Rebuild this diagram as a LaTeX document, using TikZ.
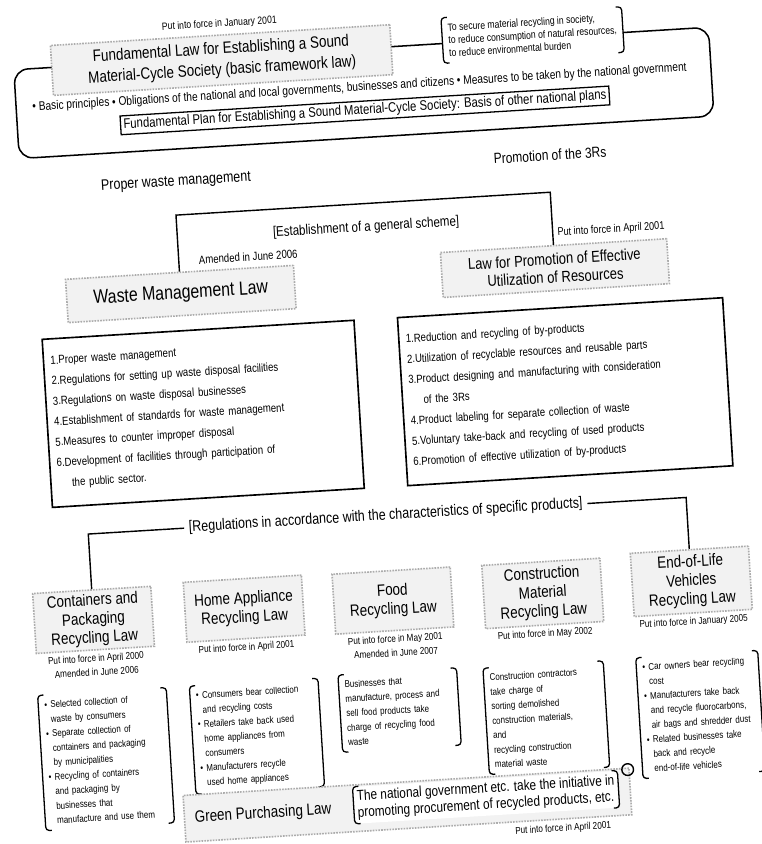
\documentclass[tikz,border=0pt]{standalone}
\usepackage{fontspec}
\setmainfont{Liberation Sans}[FakeStretch=0.82]
\usetikzlibrary{positioning}

\newcommand{\fsz}[2]{\fontsize{#1}{#2}\selectfont}
% brackets round a text node
\newcommand{\brackets}[1]{%
  \draw[line width=1.1pt, rounded corners=3pt]
    ([xshift=5pt]#1.north west) -- (#1.north west) -- (#1.south west) -- ([xshift=5pt]#1.south west)
    ([xshift=-5pt]#1.north east) -- (#1.north east) -- (#1.south east) -- ([xshift=-5pt]#1.south east);}

\tikzset{
  lawbox/.style={draw=gray!65, densely dotted, line width=1.4pt, fill=gray!10, align=center, inner sep=3pt},
  listbox/.style={draw, line width=1.4pt, align=left, anchor=north west, inner sep=6pt, font=\fsz{10}{17.5}},
  note/.style={font=\fsz{8.5}{12}, align=center, inner sep=1pt},
  bracketed/.style={align=left, anchor=north, inner sep=5pt, fill=white, font=\fsz{8.3}{12.4}},
  link/.style={line width=1.2pt},
}

\begin{document}
\begin{tikzpicture}[x=0.03cm, y=-0.03cm]
  \useasboundingbox (0,0) rectangle (762,844);
  \begin{scope}[rotate around={3.5:(381,422)}, transform shape]
  % basic framework law
  \draw[line width=1.3pt, rounded corners=12pt] (36,48) rectangle (732,137);
  \node[lawbox, minimum width=10.2cm, minimum height=1.5cm, font=\fsz{14}{18}] (fund) at (244,51)
    {Fundamental Law for Establishing a Sound\\Material-Cycle Society (basic framework law)};
  \node[font=\fsz{9}{11}, above=1pt of fund] (fundin) {Put into force in January 2001};
  \node[bracketed, anchor=center, font=\fsz{9}{11}] (aim) at (556,45)
    {To secure material recycling in society,\\to reduce consumption of natural resources,\\to reduce environmental burden};
  \brackets{aim}
  \node[font=\fsz{10.6}{12}] (prin) at (380,87)
    {• Basic principles • Obligations of the national and local governments, businesses and citizens • Measures to be taken by the national government};
  \node[draw, line width=1.1pt, font=\fsz{11.8}{13}, inner sep=2.5pt] (plan) at (384,110)
    {Fundamental Plan for Establishing a Sound Material-Cycle Society: Basis of other national plans};
  \node[font=\fsz{13}{14}] (proper) at (191,170) {Proper waste management};
  \node[font=\fsz{12.5}{14}] (three) at (566,166) {Promotion of the 3Rs};

  % general scheme
  \node[lawbox, minimum width=6.85cm, minimum height=1.3cm, font=\fsz{16.5}{19}] (wml) at (189,282) {Waste Management Law};
  \node[font=\fsz{10}{12}, anchor=west] (wmlam) at (205,249) {Amended in June 2006};
  \node[lawbox, minimum width=6.8cm, minimum height=1.35cm, font=\fsz{13.5}{15.5}] (epr) at (564,279)
    {Law for Promotion of Effective\\Utilization of Resources};
  \node[font=\fsz{9.5}{11}, anchor=east] (eprin) at (680,244) {Put into force in April 2001};
  \coordinate (schtop) at (378,203);
  \node[font=\fsz{12}{14}] (scheme) at (378,227) {[Establishment of a general scheme]};
  \draw[link] (wml.north) |- (schtop) -| (epr.north);

  \node[listbox, text width=8.95cm, minimum height=5.05cm] (wmllist) at (47,318)
    {1.Proper waste management\\
     2.Regulations for setting up waste disposal facilities\\
     3.Regulations on waste disposal businesses\\
     4.Establishment of standards for waste management\\
     5.Measures to counter improper disposal\\
     6.Development of facilities through participation of\\
     \hspace*{1.2em}the public sector.};
  \node[listbox, text width=9.35cm, minimum height=5.05cm] (eprlist) at (403,318)
    {1.Reduction and recycling of by-products\\
     2.Utilization of recyclable resources and reusable parts\\
     3.Product designing and manufacturing with consideration\\
     \hspace*{1.2em}of the 3Rs\\
     4.Product labeling for separate collection of waste\\
     5.Voluntary take-back and recycling of used products\\
     6.Promotion of effective utilization of by-products};

  % specific products
  \node[lawbox, minimum width=3.55cm, minimum height=1.8cm, font=\fsz{14}{16}] (cpl) at (82,602) {Containers and\\Packaging\\Recycling Law};
  \node[lawbox, minimum width=3.55cm, minimum height=1.8cm, font=\fsz{14}{16}] (hal) at (233,600) {Home Appliance\\Recycling Law};
  \node[lawbox, minimum width=3.55cm, minimum height=1.8cm, font=\fsz{14}{16}] (frl) at (382,601) {Food\\Recycling Law};
  \node[lawbox, minimum width=3.55cm, minimum height=1.9cm, font=\fsz{14}{16}] (cml) at (532,603) {Construction\\Material\\Recycling Law};
  \node[lawbox, minimum width=3.55cm, minimum height=1.9cm, font=\fsz{14}{16}] (elv) at (681,600) {End-of-Life\\Vehicles\\Recycling Law};
  \node[font=\fsz{13}{14}, inner sep=4pt] (regs) at (380,516)
    {[Regulations in accordance with the characteristics of specific products]};
  \draw[link] (regs.west) -| (cpl.north);
  \draw[link] (regs.east) -| (elv.north);

  \node[note, below=2pt of cpl] (cplin) {Put into force in April 2000\\Amended in June 2006};
  \node[note, below=2pt of hal] (halin) {Put into force in April 2001};
  \node[note, below=2pt of frl] (frlin) {Put into force in May 2001\\Amended in June 2007};
  \node[note, below=2pt of cml] (cmlin) {Put into force in May 2002};
  \node[note, below=2pt of elv] (elvin) {Put into force in January 2005};

  \node[bracketed, text width=3.5cm] (cpltxt) at (86,674)
    {• Selected collection of\\\hspace*{0.6em}waste by consumers\\• Separate collection of\\\hspace*{0.6em}containers and packaging\\\hspace*{0.6em}by municipalities\\• Recycling of containers\\\hspace*{0.6em}and packaging by\\\hspace*{0.6em}businesses that\\\hspace*{0.6em}manufacture and use them};
  \brackets{cpltxt}
  \node[bracketed, text width=3.5cm] (haltxt) at (238,674)
    {• Consumers bear collection\\\hspace*{0.6em}and recycling costs\\• Retailers take back used\\\hspace*{0.6em}home appliances from\\\hspace*{0.6em}consumers\\• Manufacturers recycle\\\hspace*{0.6em}used home appliances};
  \brackets{haltxt}
  \node[bracketed, text width=3.2cm] (frltxt) at (382,672)
    {Businesses that\\manufacture, process and\\sell food products take\\charge of recycling food\\waste};
  \brackets{frltxt}
  \node[bracketed, text width=3.25cm] (cmltxt) at (528,674)
    {Construction contractors\\take charge of\\sorting demolished\\construction materials,\\and\\recycling construction\\material waste};
  \brackets{cmltxt}
  \node[bracketed, text width=3.3cm] (elvtxt) at (682,673)
    {• Car owners bear recycling\\\hspace*{0.6em}cost\\• Manufacturers take back\\\hspace*{0.6em}and recycle fluorocarbons,\\\hspace*{0.6em}air bags and shredder dust\\• Related businesses take\\\hspace*{0.6em}back and recycle\\\hspace*{0.6em}end-of-life vehicles};
  \brackets{elvtxt}

  % green purchasing
  \node[lawbox, minimum width=13.4cm, minimum height=1.4cm] (gpl) at (384,806) {};
  \node[font=\fsz{14}{16}, anchor=west] (gplname) at ([xshift=6pt]gpl.west) {Green Purchasing Law};
  \node[bracketed, anchor=center, font=\fsz{12.3}{14}, inner sep=3pt] (gpltxt) at (463,803)
    {The national government etc. take the initiative in\\promoting procurement of recycled products, etc.};
  \brackets{gpltxt}
  \draw[line width=1.2pt] (606,784) circle[radius=5pt];
  \node[note] (gplin) at (538,839) {Put into force in April 2001};
  \end{scope}
\end{tikzpicture}
\end{document}
